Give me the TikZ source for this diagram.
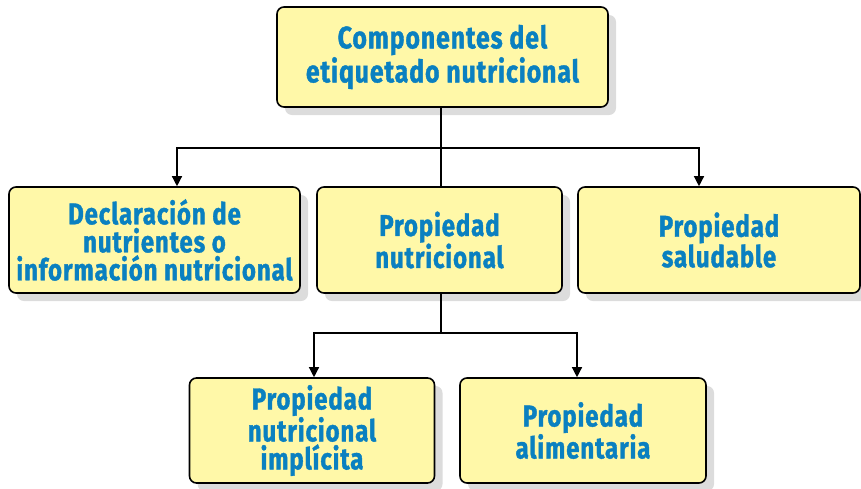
\documentclass[tikz,border=0pt]{standalone}
\usepackage{fontspec}
\setmainfont{Fira Sans}[FakeStretch=0.8, LetterSpace=3, BoldFeatures={FakeBold=1.2}]
\usetikzlibrary{shadows,arrows.meta}
\definecolor{boxfill}{HTML}{FFF8A8}
\definecolor{txtblue}{HTML}{0A80C0}
\definecolor{shadowgray}{HTML}{DCDCDC}
\tikzset{
  concept/.style={draw=black, line width=1.6pt, fill=boxfill, rounded corners=7pt,
    align=center, text=txtblue, inner sep=2pt,
    font=\fontsize{30}{28}\selectfont\bfseries,
    drop shadow={shadow xshift=8pt, shadow yshift=-8pt, fill=shadowgray, opacity=1}},
  link/.style={draw=black, line width=1.3pt},
  arrowlink/.style={link, -{Triangle[length=10pt,width=10pt]}}
}
\begin{document}
\begin{tikzpicture}[x=1pt,y=-1pt]
\useasboundingbox (0,0) rectangle (861,488);
\node[concept, minimum width=331pt, minimum height=100pt, font=\fontsize{31}{34}\selectfont\bfseries] (top) at (442.5,57) {Componentes del\\etiquetado nutricional};
\node[concept, minimum width=291pt, minimum height=106pt] (decl) at (154.5,240) {Declaración de\\nutrientes o\\información nutricional};
\node[concept, minimum width=245pt, minimum height=106pt] (nutr) at (439.5,240) {Propiedad\\nutricional};
\node[concept, minimum width=282pt, minimum height=106pt] (salu) at (719,240) {Propiedad\\saludable};
\node[concept, minimum width=245pt, minimum height=105pt] (impl) at (312,430.5) {Propiedad\\nutricional\\implícita};
\node[concept, minimum width=246pt, minimum height=105pt] (alim) at (583,430.5) {Propiedad\\alimentaria};
\coordinate (j1) at (441,148);
\coordinate (j2) at (441,333);
\draw[link] (top.south -| j1) -- (nutr.north -| j1);
\draw[arrowlink] (j1) -| (decl.north -| 177,0);
\draw[arrowlink] (j1) -| (salu.north -| 699,0);
\draw[link] (nutr.south -| j2) -- (j2);
\draw[arrowlink] (j2) -| (impl.north -| 314,0);
\draw[arrowlink] (j2) -| (alim.north -| 577,0);
\end{tikzpicture}
\end{document}
